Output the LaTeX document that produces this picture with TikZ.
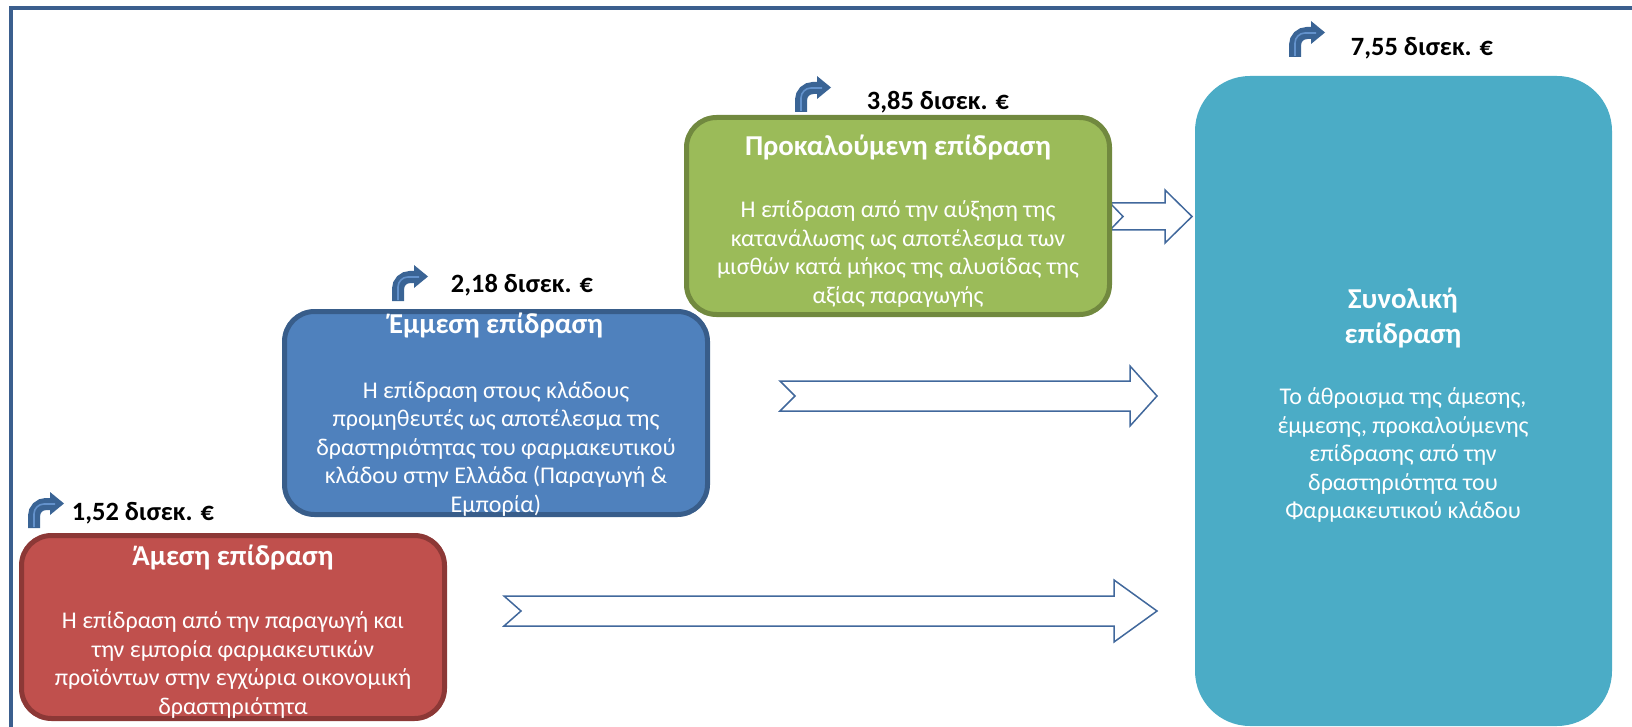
\documentclass[tikz,border=0pt]{standalone}
\usepackage{fontspec}
\setmainfont{Carlito}
\usetikzlibrary{calc}

\definecolor{frameblue}{HTML}{3B5F8E}
\definecolor{dirfill}{HTML}{C0504D}
\definecolor{dirline}{HTML}{8C3836}
\definecolor{indfill}{HTML}{4F81BD}
\definecolor{indline}{HTML}{385D8A}
\definecolor{inufill}{HTML}{9BBB59}
\definecolor{inuline}{HTML}{71893F}
\definecolor{totfill}{HTML}{4BACC6}
\definecolor{arrowblue}{HTML}{41689C}
\definecolor{icondark}{HTML}{3A6495}
\definecolor{iconlight}{HTML}{6392CC}

\newcommand{\flowarrow}[6]{
\draw[flow] ($(#1)+(0,-#3)$) -- ($(#2)+(-#4,-#3)$) -- ($(#2)+(-#4,-#5)$) -- (#2)
  -- ($(#2)+(-#4,#5)$) -- ($(#2)+(-#4,#3)$) -- ($(#1)+(0,#3)$) -- ($(#1)+(#6,0)$) -- cycle;
}

\tikzset{
  box/.style = {rectangle, rounded corners=15pt, line width=2.5pt, minimum width=211.5pt, inner sep=0pt},
  boxtitle/.style = {text=white, font=\fontsize{14.4}{17.5}\selectfont\bfseries, align=center},
  boxtext/.style = {text=white, font=\fontsize{12}{14.25}\selectfont, align=center},
  value/.style = {font=\fontsize{13.2}{16}\selectfont\bfseries},
  flow/.style = {draw=arrowblue, fill=white, line width=0.75pt, line join=miter},
  bent/.pic = {
    \draw[icondark, line width=6pt, rounded corners=6pt] (6,35) -- (6,11) -- (24,11);
    \fill[icondark] (22,-1) -- (36,10.5) -- (22,22) -- cycle;
    \draw[iconlight, line width=0.8pt, rounded corners=5pt] (6,34) -- (6,11) -- (27,11);
  }
}

\begin{document}
\begin{tikzpicture}[x=0.5pt, y=-0.5pt]
\useasboundingbox (0,0) rectangle (1632,727);

\draw[frameblue, line width=2.2pt] (11,727) -- (11,8) -- (1632,8);

\coordinate (dirtail) at (504,611);
\coordinate (dirtip) at (1157,611);
\coordinate (indtail) at (780,396);
\coordinate (indtip) at (1157,396);
\coordinate (inutail) at (1110,216.5);
\coordinate (inutip) at (1192,216.5);

\flowarrow{dirtail}{dirtip}{15}{43}{31}{17}
\flowarrow{indtail}{indtip}{15}{27}{30}{15}
\flowarrow{inutail}{inutip}{13.5}{27}{26.5}{13}

\node[box, fill=dirfill, draw=dirline, minimum height=91.5pt] (direct) at (233,627) {};
\node[box, fill=indfill, draw=indline, minimum height=101.5pt] (indirect) at (496,413) {};
\node[box, fill=inufill, draw=inuline, minimum height=98.5pt] (induced) at (898,216) {};
\node[box, fill=totfill, draw=none, rounded corners=27.5pt, minimum width=208.5pt, minimum height=325pt] (total) at (1403.5,401) {};

\node[boxtitle] (directtitle) at (233,557) {Άμεση επίδραση};
\node[boxtext] (directtext) at (233,665) {Η επίδραση από την παραγωγή και\\την εμπορία φαρμακευτικών\\προϊόντων στην εγχώρια οικονομική\\δραστηριότητα};

\node[boxtitle] (indirecttitle) at (496,325) {Έμμεση επίδραση};
\node[boxtext] (indirecttext) at (496,448.5) {Η επίδραση στους κλάδους\\προμηθευτές ως αποτέλεσμα της\\δραστηριότητας του φαρμακευτικού\\κλάδου στην Ελλάδα (Παραγωγή \&\\Εμπορία)};

\node[boxtitle] (inducedtitle) at (898,147) {Προκαλούμενη επίδραση};
\node[boxtext] (inducedtext) at (898,254) {Η επίδραση από την αύξηση της\\κατανάλωσης ως αποτέλεσμα των\\μισθών κατά μήκος της αλυσίδας της\\αξίας παραγωγής};

\node[boxtitle] (totaltitle) at (1403,317.5) {Συνολική\\επίδραση};
\node[boxtext] (totaltext) at (1403,455) {Το άθροισμα της άμεσης,\\έμμεσης, προκαλούμενης\\επίδρασης από την\\δραστηριότητα του\\Φαρμακευτικού κλάδου};

\node[value] (directvalue) at (143,513) {1,52 δισεκ. €};
\node[value] (indirectvalue) at (522,285) {2,18 δισεκ. €};
\node[value] (inducedvalue) at (938,102) {3,85 δισεκ. €};
\node[value] (totalvalue) at (1422,48) {7,55 δισεκ. €};

\pic at (28,493) {bent};
\pic at (392,266) {bent};
\pic at (795,77) {bent};
\pic at (1289,22) {bent};

\end{tikzpicture}
\end{document}
